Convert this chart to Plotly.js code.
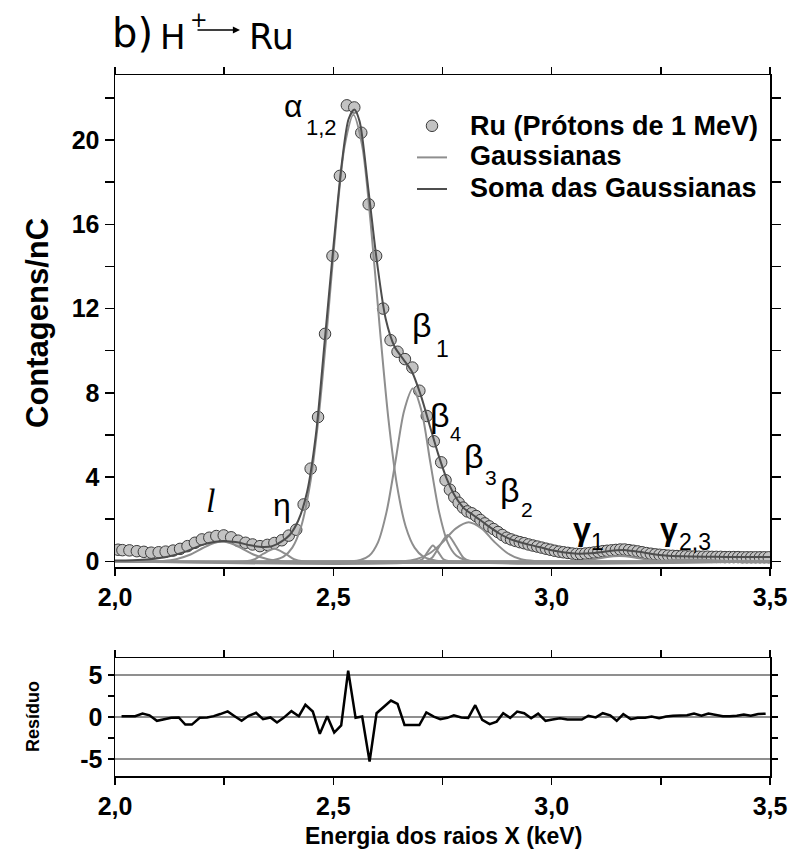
<!DOCTYPE html>
<html>
<head>
<meta charset="utf-8">
<script src="https://cdn.plot.ly/plotly-3.0.1.min.js"></script>
<style>
  html, body { margin: 0; padding: 0; background: #ffffff; }
  #chart { width: 794px; height: 855px; }
</style>
</head>
<body>
<div id="chart"></div>
<script>
// ---------------- DATA ----------------
// Measured spectrum: Ru (Prótons de 1 MeV)
var dataX = [2.007, 2.017, 2.033, 2.050, 2.066, 2.083, 2.100, 2.116, 2.133, 2.149,
             2.166, 2.183, 2.199, 2.216, 2.232, 2.249, 2.266, 2.282, 2.299, 2.315,
             2.332, 2.349, 2.365, 2.382, 2.398, 2.415, 2.432, 2.448, 2.465, 2.481,
             2.498, 2.515, 2.531, 2.548, 2.564, 2.581, 2.598, 2.614, 2.631, 2.647,
             2.664, 2.681, 2.697, 2.714, 2.730, 2.747,
             2.757, 2.767, 2.777, 2.787, 2.797, 2.807, 2.817, 2.827, 2.837, 2.847,
             2.857, 2.867, 2.877, 2.887, 2.897, 2.907, 2.917, 2.927, 2.937, 2.947,
             2.957, 2.967, 2.977, 2.987, 2.997, 3.007, 3.017, 3.027, 3.037, 3.047,
             3.057, 3.067, 3.077, 3.087, 3.097, 3.107, 3.117, 3.127, 3.137, 3.147,
             3.157, 3.167, 3.177, 3.187, 3.197, 3.207, 3.217, 3.227, 3.237, 3.247,
             3.257, 3.267, 3.277, 3.287, 3.297, 3.307, 3.317, 3.327, 3.337, 3.347,
             3.357, 3.367, 3.377, 3.387, 3.397, 3.407, 3.417, 3.427, 3.437, 3.447,
             3.457, 3.467, 3.477, 3.487, 3.497];
var dataY = [0.55, 0.53, 0.52, 0.48, 0.45, 0.41, 0.43, 0.46, 0.51, 0.59,
             0.72, 0.88, 1.04, 1.12, 1.20, 1.23, 1.14, 0.98, 0.88, 0.80,
             0.72, 0.78, 0.87, 1.00, 1.22, 1.50, 2.70, 4.40, 6.85, 10.8,
             14.5, 18.3, 21.65, 21.55, 20.35, 16.95, 14.5, 12.0, 10.5, 9.95,
             9.6, 9.2, 8.1, 6.9, 5.7, 4.7,
             3.85, 3.40, 3.05, 2.78, 2.55, 2.37, 2.28, 2.15, 1.96, 1.80,
             1.66, 1.53, 1.39, 1.25, 1.12, 1.04, 0.97, 0.91, 0.86, 0.80,
             0.75, 0.70, 0.65, 0.60, 0.55, 0.50, 0.46, 0.43, 0.40, 0.37,
             0.35, 0.35, 0.37, 0.39, 0.42, 0.45, 0.48, 0.50, 0.52, 0.54,
             0.56, 0.56, 0.53, 0.50, 0.47, 0.43, 0.39, 0.36, 0.33, 0.31,
             0.29, 0.27, 0.26, 0.25, 0.24, 0.24, 0.23, 0.23, 0.22, 0.22,
             0.22, 0.21, 0.21, 0.21, 0.20, 0.20, 0.20, 0.20, 0.19, 0.19,
             0.19, 0.19, 0.19, 0.19, 0.19];

// Individual Gaussian components
var gLx = [2.00, 2.08, 2.11, 2.14, 2.17, 2.20, 2.225, 2.245, 2.265, 2.29, 2.32, 2.35, 2.38, 2.41, 3.50];
var gLy = [0, 0, 0.02, 0.10, 0.30, 0.62, 0.86, 0.93, 0.86, 0.62, 0.30, 0.10, 0.02, 0, 0];

var gEtaX = [2.00, 2.30, 2.32, 2.34, 2.365, 2.39, 2.41, 2.43, 3.50];
var gEtaY = [0, 0, 0.10, 0.36, 0.60, 0.36, 0.10, 0, 0];

var gAlphaX = [2.00, 2.346, 2.366, 2.386, 2.406, 2.426, 2.446, 2.466, 2.486, 2.506, 2.526, 2.546,
               2.566, 2.586, 2.606, 2.626, 2.646, 2.666, 2.686, 2.706, 2.726, 2.746, 3.50];
var gAlphaY = [0, 0, 0.07, 0.22, 0.65, 1.63, 3.58, 6.79, 11.17, 15.94, 19.74, 21.2,
               19.74, 15.94, 11.17, 6.79, 3.58, 1.63, 0.65, 0.22, 0.07, 0, 0];

var gB1x = [2.00, 2.542, 2.562, 2.582, 2.602, 2.622, 2.642, 2.662, 2.682, 2.702, 2.722, 2.742, 2.762, 2.782, 2.802, 2.822, 3.50];
var gB1y = [0, 0, 0.06, 0.26, 0.89, 2.36, 4.71, 7.14, 8.2, 7.14, 4.71, 2.36, 0.89, 0.26, 0.06, 0, 0];

var gB4x = [2.00, 2.690, 2.704, 2.716, 2.728, 2.740, 2.752, 2.766, 3.50];
var gB4y = [0, 0, 0.10, 0.45, 0.75, 0.45, 0.10, 0, 0];

var gB3x = [2.00, 2.710, 2.726, 2.744, 2.762, 2.780, 2.798, 2.814, 3.50];
var gB3y = [0, 0, 0.17, 0.75, 1.25, 0.75, 0.17, 0, 0];

var gB2x = [2.00, 2.66, 2.69, 2.72, 2.75, 2.78, 2.81, 2.84, 2.87, 2.90, 2.93, 2.96, 3.50];
var gB2y = [0, 0, 0.10, 0.37, 0.90, 1.55, 1.85, 1.55, 0.90, 0.37, 0.10, 0.02, 0];

var gG1x = [2.00, 3.05, 3.09, 3.12, 3.155, 3.19, 3.22, 3.26, 3.50];
var gG1y = [0, 0, 0.07, 0.18, 0.25, 0.18, 0.07, 0, 0];

var gG23x = [2.00, 3.20, 3.25, 3.29, 3.32, 3.35, 3.39, 3.44, 3.50];
var gG23y = [0, 0, 0.03, 0.07, 0.08, 0.07, 0.03, 0, 0];

// Sum of the Gaussians
var sumX = [2.00, 2.04, 2.08, 2.12, 2.16, 2.20, 2.23, 2.25, 2.28, 2.31, 2.34, 2.36, 2.38, 2.40,
            2.42, 2.44, 2.46, 2.48, 2.50, 2.52, 2.535, 2.548, 2.56, 2.58, 2.60, 2.62, 2.64,
            2.66, 2.68, 2.70, 2.72, 2.74, 2.76, 2.78, 2.80, 2.82, 2.84, 2.86, 2.88, 2.90,
            2.92, 2.95, 2.98, 3.00, 3.03, 3.06, 3.09, 3.12, 3.15, 3.17, 3.20, 3.23, 3.26,
            3.30, 3.35, 3.40, 3.45, 3.50];
var sumY = [0.04, 0.05, 0.10, 0.22, 0.45, 0.78, 0.93, 0.97, 0.90, 0.76, 0.68, 0.72, 0.92, 1.25,
            1.95, 3.3, 6.0, 10.4, 14.9, 19.0, 21.0, 21.45, 20.9, 17.7, 14.2, 11.5, 10.2,
            9.6, 9.0, 7.9, 6.5, 5.1, 3.9, 3.05, 2.5, 2.2, 1.9, 1.6, 1.32, 1.1,
            0.95, 0.78, 0.63, 0.53, 0.42, 0.36, 0.38, 0.45, 0.52, 0.53, 0.45, 0.35, 0.28,
            0.24, 0.22, 0.21, 0.20, 0.20];

// Residual (Resíduo)
var resX = [2.015, 2.030, 2.046, 2.063, 2.079, 2.096, 2.111, 2.129, 2.146, 2.161,
            2.176, 2.194, 2.211, 2.226, 2.241, 2.258, 2.274, 2.290, 2.306, 2.323,
            2.339, 2.356, 2.371, 2.386, 2.404, 2.421, 2.436, 2.453, 2.469, 2.486,
            2.502, 2.518, 2.534, 2.551, 2.566, 2.583, 2.599, 2.615, 2.632, 2.647,
            2.663, 2.680, 2.697, 2.713, 2.730, 2.745, 2.761, 2.776, 2.793, 2.809,
            2.825, 2.841, 2.858, 2.874, 2.889, 2.905, 2.921, 2.937, 2.953, 2.969,
            2.986, 3.002, 3.019, 3.036, 3.052, 3.069, 3.084, 3.101, 3.117, 3.134,
            3.149, 3.164, 3.181, 3.197, 3.214, 3.229, 3.246, 3.262, 3.278, 3.294,
            3.310, 3.326, 3.343, 3.359, 3.376, 3.392, 3.408, 3.424, 3.440, 3.456,
            3.473, 3.490];
var resY = [0.1, 0.1, 0.1, 0.4, 0.2, -0.45, -0.3, -0.1, -0.05, -0.9,
            -0.9, -0.1, -0.05, 0.1, 0.35, 0.67, 0.1, -0.45, 0.15, 0.5,
            -0.25, -0.05, -0.65, -0.1, 0.7, 0.1, 1.45, 0.65, -2.0, 0.1,
            -1.85, -1.0, 5.5, -0.1, 0.05, -5.3, 0.45, 1.15, 1.95, 1.55,
            -0.95, -0.95, -0.95, 0.55, 0.05, -0.25, -0.1, 0.2, -0.05, -0.1,
            1.4, -0.35, -0.85, -0.55, 0.45, -0.1, 0.65, 0.45, -0.15, 0.4,
            -0.45, -0.3, -0.15, -0.3, -0.3, -0.3, 0.15, -0.05, 0.45, 0.2,
            -0.45, 0.35, -0.25, -0.1, -0.1, 0.05, -0.15, 0.05, 0.15, 0.15,
            0.2, 0.4, 0.15, 0.4, 0.2, 0.1, 0.1, 0.15, 0.3, 0.15,
            0.35, 0.4];

// Series names and tick labels
var seriesNames = ['Ru (Prótons de 1 MeV)', 'Gaussianas', 'Soma das Gaussianas'];
var xTickVals = [2.0, 2.5, 3.0, 3.5];
var xTickText = ['2,0', '2,5', '3,0', '3,5'];
var xMinorVals = [2.25, 2.75, 3.25];
var yTickVals = [0, 4, 8, 12, 16, 20];
var yTickText = ['0', '4', '8', '12', '16', '20'];
var yMinorVals = [2, 6, 10, 14, 18, 22];
var rTickVals = [-5, 0, 5];
var rTickText = ['-5', '0', '5'];
var rMinorVals = [-2.5, 2.5];

// ---------------- STYLE / LAYOUT ----------------
var FONT = 'Liberation Sans, Arial, sans-serif';
var GAUSS_COLOR = '#8e8e8e';
var SUM_COLOR = '#4d4d4d';

// plot area in page pixels: left 115, right 770, top 75, bottom 776
var L = 115, R = 770, T = 75, B = 776;
function px(x) { return (x - L) / (R - L); }
function py(y) { return (B - y) / (B - T); }

var gaussSets = [[gLx, gLy], [gEtaX, gEtaY], [gAlphaX, gAlphaY], [gB1x, gB1y],
                 [gB4x, gB4y], [gB3x, gB3y], [gB2x, gB2y], [gG1x, gG1y], [gG23x, gG23y]];

var traces = [];
traces.push({
  x: dataX, y: dataY, type: 'scatter', mode: 'markers', name: ' ',
  xaxis: 'x', yaxis: 'y',
  marker: { size: 11.5, color: '#c3c3c3', line: { color: '#3c3c3c', width: 1 } }
});
gaussSets.forEach(function (g, i) {
  traces.push({
    x: g[0], y: g[1], type: 'scatter', mode: 'lines', name: ' ',
    showlegend: i === 0, legendgroup: 'g',
    xaxis: 'x', yaxis: 'y',
    line: { color: GAUSS_COLOR, width: 2, shape: 'spline', smoothing: 0.8 }
  });
});
traces.push({
  x: sumX, y: sumY, type: 'scatter', mode: 'lines', name: ' ',
  xaxis: 'x', yaxis: 'y',
  line: { color: SUM_COLOR, width: 2, shape: 'spline', smoothing: 0.8 }
});
traces.push({
  x: resX, y: resY, type: 'scatter', mode: 'lines', name: 'Resíduo', showlegend: false,
  xaxis: 'x2', yaxis: 'y2',
  line: { color: '#000000', width: 2.5 }
});

var tickFont = { family: FONT, size: 25, color: '#000', weight: 'bold' };

function xAxisCfg(anchor) {
  return {
    anchor: anchor, domain: [0, 1], range: [2.0, 3.5],
    tickmode: 'array', tickvals: xTickVals, ticktext: xTickText,
    ticks: 'outside', ticklen: 7, tickwidth: 1.5, tickcolor: '#000',
    minor: { tickmode: 'array', tickvals: xMinorVals, ticks: 'outside', ticklen: 7, tickwidth: 1.5, tickcolor: '#000', showgrid: false },
    showline: true, linecolor: '#000', linewidth: 1.5, mirror: 'ticks',
    showgrid: false, zeroline: false, tickfont: tickFont
  };
}

var layout = {
  width: 794, height: 855,
  margin: { l: L, r: 794 - R, t: T, b: 855 - B },
  paper_bgcolor: '#ffffff', plot_bgcolor: '#ffffff',
  showlegend: true,
  legend: {
    x: px(412), y: py(105), xanchor: 'left', yanchor: 'top',
    bgcolor: 'rgba(0,0,0,0)', borderwidth: 0,
    font: { family: FONT, size: 22, color: '#000', weight: 'bold' },
    traceorder: 'normal', tracegroupgap: 0
  },
  xaxis: xAxisCfg('y'),
  xaxis2: xAxisCfg('y2'),
  yaxis: {
    anchor: 'x', domain: [py(567), 1], range: [-0.27, 23.09],
    tickmode: 'array', tickvals: yTickVals, ticktext: yTickText,
    ticks: 'outside', ticklen: 9, tickwidth: 1.5, tickcolor: '#000',
    minor: { tickmode: 'array', tickvals: yMinorVals, ticks: 'outside', ticklen: 9, tickwidth: 1.5, tickcolor: '#000', showgrid: false },
    showline: true, linecolor: '#000', linewidth: 1.5, mirror: 'ticks',
    showgrid: false, zeroline: false, tickfont: tickFont
  },
  yaxis2: {
    anchor: 'x2', domain: [0, py(658)], range: [-7, 7],
    tickmode: 'array', tickvals: rTickVals, ticktext: rTickText,
    ticks: 'outside', ticklen: 6, tickwidth: 1.5, tickcolor: '#000',
    minor: { tickmode: 'array', tickvals: rMinorVals, ticks: 'outside', ticklen: 6, tickwidth: 1.5, tickcolor: '#000', showgrid: false },
    showline: true, linecolor: '#000', linewidth: 1.5, mirror: 'ticks',
    showgrid: true, gridcolor: '#8f8f8f', gridwidth: 2, zeroline: false, tickfont: tickFont
  },
  annotations: []
};

function ann(text, x, y, size, opts) {
  var a = {
    text: text, xref: 'paper', yref: 'paper', x: px(x), y: py(y),
    xanchor: 'left', yanchor: 'middle', showarrow: false,
    font: { family: FONT, size: size, color: '#000' }
  };
  if (opts) { for (var k in opts) { if (k === 'font') { for (var f in opts.font) a.font[f] = opts.font[f]; } else a[k] = opts[k]; } }
  layout.annotations.push(a);
}

// Legend texts (next to the legend symbols)
ann(seriesNames[0], 468, 126, 27, { font: { weight: 'bold' } });
ann(seriesNames[1], 468, 156, 27, { font: { weight: 'bold' } });
ann(seriesNames[2], 468, 188, 27, { font: { weight: 'bold' } });

// Heading  b) H+ -> Ru
var HFONT = 'DejaVu Sans, sans-serif';
ann('b)', 110, 33, 40, { font: { family: HFONT } });
ann('H', 158, 37, 34, { font: { family: HFONT } });
ann('+', 188, 20, 21, { font: { family: HFONT } });
ann('Ru', 247, 37, 35, { font: { family: HFONT } });
layout.annotations.push({
  text: '', xref: 'paper', yref: 'paper', x: px(240), y: py(30),
  axref: 'pixel', ayref: 'pixel', ax: -44, ay: 0,
  showarrow: true, arrowhead: 2, arrowsize: 1.1, arrowwidth: 1.3, arrowcolor: '#000'
});

// Axis titles
ann('Contagens/nC', 37, 323, 31, { xanchor: 'center', textangle: -90, font: { weight: 'bold' } });
ann('Resíduo', 33, 717, 18, { xanchor: 'center', textangle: -90, font: { weight: 'bold' } });
ann('Energia dos raios X (keV)', 443, 836, 23, { xanchor: 'center', font: { weight: 'bold' } });

// Peak labels
ann('α', 282, 106, 32);
ann('1,2', 304, 128, 22);
ann('β', 410, 325, 34);
ann('1', 434, 349, 23);
ann('β', 428, 415, 34);
ann('4', 448, 434, 20);
ann('β', 462, 456, 34);
ann('3', 483, 477, 21);
ann('β', 498, 490, 34);
ann('2', 519, 510, 21);
ann('γ', 571, 529, 32, { font: { weight: 'bold' } });
ann('1', 589, 542, 23);
ann('γ', 658, 529, 32, { font: { weight: 'bold' } });
ann('2,3', 677, 542, 23);
ann('η', 271, 505, 32);
ann('l', 204, 500, 34, { font: { family: 'Liberation Serif, serif', style: 'italic' } });

Plotly.newPlot('chart', traces, layout, { staticPlot: true, displayModeBar: false });
</script>
</body>
</html>
